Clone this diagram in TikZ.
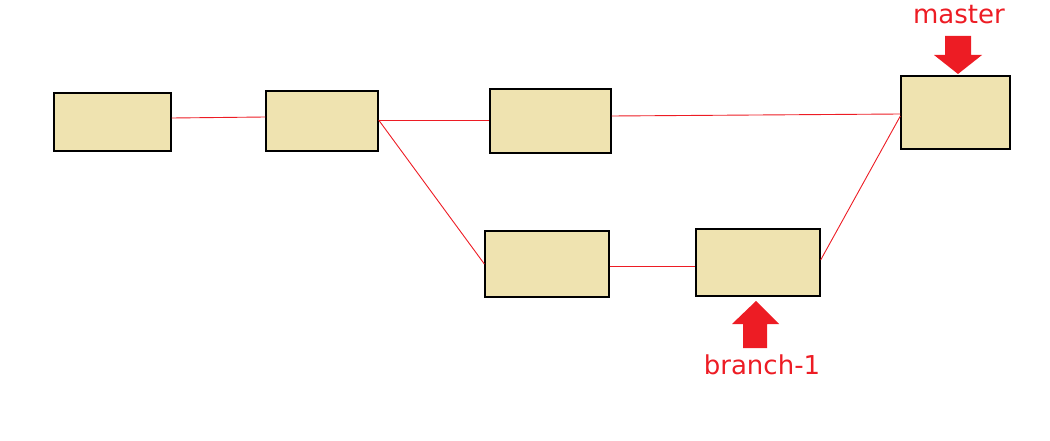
\documentclass[tikz,border=0pt]{standalone}
\usepackage{fontspec}
\setmainfont{DejaVu Sans}
\definecolor{boxfill}{RGB}{239,227,176}
\definecolor{gitred}{RGB}{237,28,36}
\begin{document}
\begin{tikzpicture}[x=1pt,y=-1pt,
  commit/.style={draw=black,fill=boxfill,line width=1.3pt,inner sep=0pt},
  link/.style={draw=gitred,line width=0.9pt},
  tag/.style={text=gitred,font=\fontsize{26}{30}\selectfont,inner sep=0pt}]
\useasboundingbox (0,0) rectangle (1050,441);
% commits
\node[commit,minimum width=117pt,minimum height=58pt] (b1) at (112.5,122){};
\node[commit,minimum width=112pt,minimum height=60pt] (b2) at (322,121){};
\node[commit,minimum width=121pt,minimum height=64pt] (b3) at (550.5,121){};
\node[commit,minimum width=109pt,minimum height=73pt] (b4) at (955.5,112.5){};
\node[commit,minimum width=124pt,minimum height=66pt] (b5) at (547,264){};
\node[commit,minimum width=124pt,minimum height=67pt] (b6) at (758,262.5){};
% history
\draw[link] ([yshift=4pt]b1.east)--([yshift=4pt]b2.west);
\draw[link] ([yshift=1pt]b2.east)--([yshift=1pt]b3.west);
\draw[link] ([yshift=1pt]b2.east)--(b5.west);
\draw[link] ([yshift=5pt]b3.east)--([yshift=-1.5pt]b4.west);
\draw[link] ([yshift=-2pt]b5.east)--([yshift=-3.5pt]b6.west);
\draw[link] ([yshift=2.5pt]b6.east)--([yshift=-3.5pt]b4.west);
% branch pointers
\coordinate (mtip) at (958,74);
\coordinate (btip) at (756,301);
\fill[gitred] (mtip)--++(-24,-19)--++(11,0)--++(0,-19)--++(26,0)--++(0,19)--++(11,0)--cycle;
\fill[gitred] (btip)--++(-24,23)--++(11,0)--++(0,24)--++(24,0)--++(0,-24)--++(12,0)--cycle;
\node[tag,anchor=base] (master) at (959,24){master};
\node[tag,anchor=base] (branch) at (762,374){branch-1};
\end{tikzpicture}
\end{document}
